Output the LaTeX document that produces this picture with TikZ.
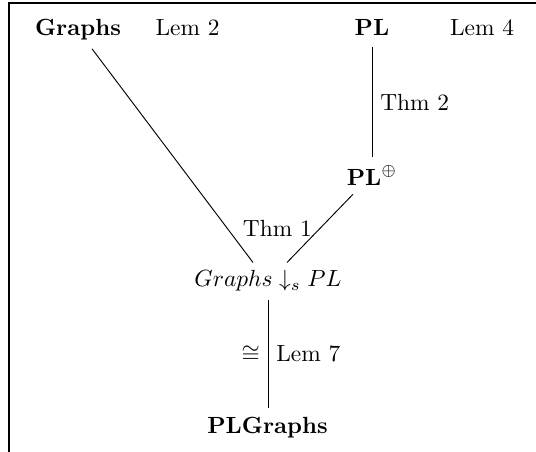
\documentclass[tikz,border=0pt]{standalone}
\usetikzlibrary{calc}
\begin{document}
\begin{tikzpicture}[x=0.4274pt,y=-0.4274pt,
  obj/.style={anchor=base,inner sep=3.33pt},
  lab/.style={inner sep=3.33pt},
  conn/.style={line width=0.4pt},
  frameline/.style={line width=0.5pt}]
\useasboundingbox (0,0) rectangle (536,452);
\draw[frameline] (9,452) -- (9,3) -- (536,3);
% objects
\node[obj] (G) at (78,36) {\textbf{Graphs}};
\node[obj] (L2) at (187.5,36) {Lem 2};
\node[obj] (PL) at (372,36) {\textbf{PL}};
\node[obj] (L4) at (482,36) {Lem 4};
\node[obj] (PLp) at (372,186) {$\mathbf{PL}^{\oplus}$};
\node[obj] (C) at (268,287) {$Graphs\downarrow_s PL$};
\node[obj] (PLG) at (267.5,433) {\textbf{PLGraphs}};
% connectors
\draw[conn] ($(PL.south)+(0,3)$) -- (PL.south |- PLp.north)
  node[lab,midway,right] {Thm 2};
\draw[conn] ($(G.south)+(14,0)$) -- ($(C.north)+(-15,0)$);
\draw[conn] ($(PLp.south)+(-19,0)$) -- ($(C.north)+(19,0)$)
  node[lab,midway,left] {Thm 1};
\draw[conn] (C.south) -- (C.south |- PLG.north)
  node[lab,midway,left] {$\cong$}
  node[lab,midway,right] {Lem 7};
\end{tikzpicture}
\end{document}
